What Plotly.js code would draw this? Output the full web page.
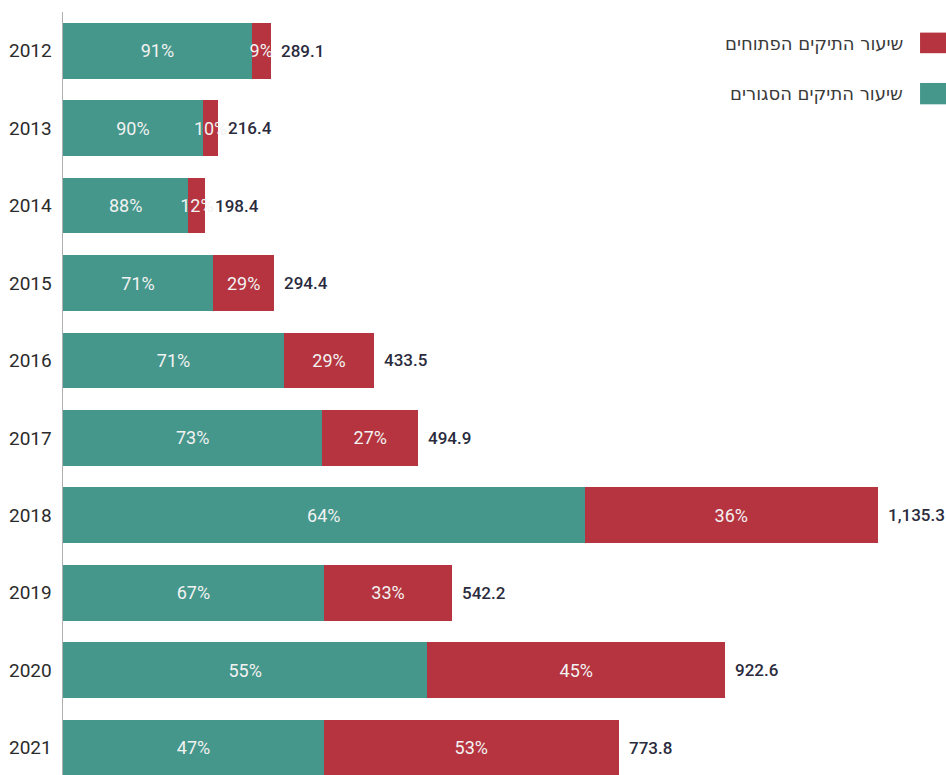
<!DOCTYPE html>
<html><head><meta charset="utf-8">
<script src="https://cdn.plot.ly/plotly-3.0.1.min.js"></script>
<style>html,body{margin:0;padding:0;background:#fff}#c{width:946px;height:775px}</style>
</head><body><div id="c"></div>
<script>
const years = ['2012','2013','2014','2015','2016','2017','2018','2019','2020','2021'];
const totals = [289.1,216.4,198.4,294.4,433.5,494.9,1135.3,542.2,922.6,773.8];
const closedPct = [91,90,88,71,71,73,64,67,55,47];
const openPct = [9,10,12,29,29,27,36,33,45,53];
const legendClosed = 'שיעור התיקים הסגורים';
const legendOpen = 'שיעור התיקים הפתוחים';

const teal = '#45978b', red = '#b5343f';
const numFont = 'Roboto, "DejaVu Sans", sans-serif';
const hebFont = '"DejaVu Sans", "Liberation Sans", sans-serif';

const closedVals = totals.map((t,i)=>t*closedPct[i]/100);
const openVals = totals.map((t,i)=>t*openPct[i]/100);

const traces = [
  {type:'bar', orientation:'h', y:years, x:closedVals, marker:{color:teal},
   text:closedPct.map(p=>p+'%'), textposition:'inside', insidetextanchor:'middle', textangle:0,
   constraintext:'none', textfont:{color:'#f2f2f2', size:18, family:numFont},
   hoverinfo:'skip', name:legendClosed},
  {type:'bar', orientation:'h', y:years, x:openVals, marker:{color:red},
   text:openPct.map(p=>p+'%'), textposition:'inside', insidetextanchor:'middle', textangle:0,
   constraintext:'none', textfont:{color:'#f2f2f2', size:18, family:numFont},
   hoverinfo:'skip', name:legendOpen}
];

const annotations = totals.map((t,i)=>({
  x:t, y:i, xref:'x', yref:'y', xanchor:'left', yanchor:'middle', xshift:8,
  text:t.toLocaleString('en-US',{minimumFractionDigits:1,maximumFractionDigits:1}),
  showarrow:false, font:{size:17, color:'#2a2b3d', family:numFont, weight:500}
}));
annotations.push(
  {xref:'paper', yref:'paper', x:0.9536, y:0.959, xanchor:'right', yanchor:'middle', showarrow:false,
   text:legendOpen, font:{size:18, color:'#3a3a3a', family:hebFont}},
  {xref:'paper', yref:'paper', x:0.9536, y:0.893, xanchor:'right', yanchor:'middle', showarrow:false,
   text:legendClosed, font:{size:18, color:'#3a3a3a', family:hebFont}}
);

const layout = {
  width:946, height:775,
  margin:{l:63, r:0, t:12, b:0},
  paper_bgcolor:'#fff', plot_bgcolor:'#fff',
  barmode:'stack', bargap:0.28, showlegend:false,
  xaxis:{range:[0,1230], visible:false, fixedrange:true},
  yaxis:{type:'category', range:[9.353,-0.5], showline:true, linecolor:'#b0b0b0', linewidth:1.5,
         showgrid:false, zeroline:false, ticks:'', ticklabelstandoff:6,
         tickfont:{size:19, color:'#2b2b2b', family:numFont}},
  annotations:annotations,
  shapes:[
    {type:'rect', xref:'paper', yref:'paper', x0:0.9706, x1:1.0, y0:0.946, y1:0.973, fillcolor:red, line:{width:0}},
    {type:'rect', xref:'paper', yref:'paper', x0:0.9706, x1:1.0, y0:0.879, y1:0.907, fillcolor:teal, line:{width:0}}
  ]
};
Plotly.newPlot('c', traces, layout, {displayModeBar:false, staticPlot:true});
</script></body></html>
